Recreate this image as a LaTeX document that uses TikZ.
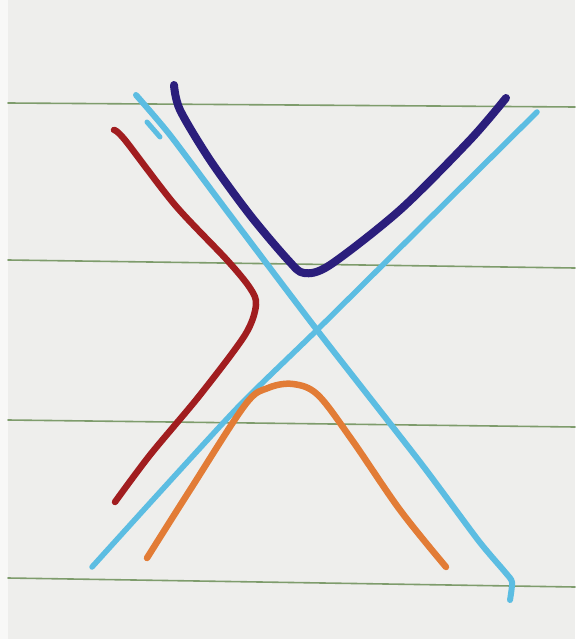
\documentclass[tikz,border=0pt]{standalone}
\begin{document}
\begin{tikzpicture}[x=1pt,y=-1pt,line cap=round,line join=round,
  rule/.style={draw=ruleg,line width=1.6},
  pen/.style={line width=6.5}]
\definecolor{paper}{HTML}{EEEEEC}
\definecolor{ruleg}{HTML}{7E9C6C}
\definecolor{lblue}{HTML}{5CBDE2}
\definecolor{dblue}{HTML}{2B1E7C}
\definecolor{dred}{HTML}{A11D1F}
\definecolor{orng}{HTML}{E27C36}
\useasboundingbox (0,0) rectangle (575,639);
\fill[paper] (0,0) rectangle (575,639);
\fill[white!60!paper] (0,0) rectangle (8,639);
% ruled lines
\draw[rule] (8,103) -- (575,107);
\draw[rule] (8,260) -- (575,268);
\draw[rule] (8,420) -- (575,427);
\draw[rule] (8,578) -- (575,587);
% asymptotes (light blue)
\draw[pen,lblue,line width=6] plot[smooth,tension=0.4] coordinates {(136,95) (170,135) (230,215) (317,330) (420,462) (478,540) (505,572) (512,582) (510,600)};
\draw[pen,lblue,line width=5] plot[smooth] coordinates {(147,122) (160,137)};
\draw[pen,lblue,line width=5.5] plot[smooth,tension=0.4] coordinates {(92,567) (160,492) (240,405) (317,330) (420,228) (537,112)};
% dark blue branch
\draw[pen,dblue,line width=8] plot[smooth,tension=0.5] coordinates {(174,85) (180,110) (210,160) (250,215) (288,260) (304,273) (330,265) (400,210) (470,140) (506,98)};
% red branch
\draw[pen,dred] plot[smooth,tension=0.5] coordinates {(114,130) (125,140) (175,205) (227,260) (250,288) (256,305) (245,335) (200,395) (150,455) (115,502)};
% orange branch
\draw[pen,orng] plot[smooth,tension=0.55] coordinates {(147,558) (190,490) (245,405) (268,388) (293,384) (318,395) (352,440) (400,510) (446,567)};
\end{tikzpicture}
\end{document}
